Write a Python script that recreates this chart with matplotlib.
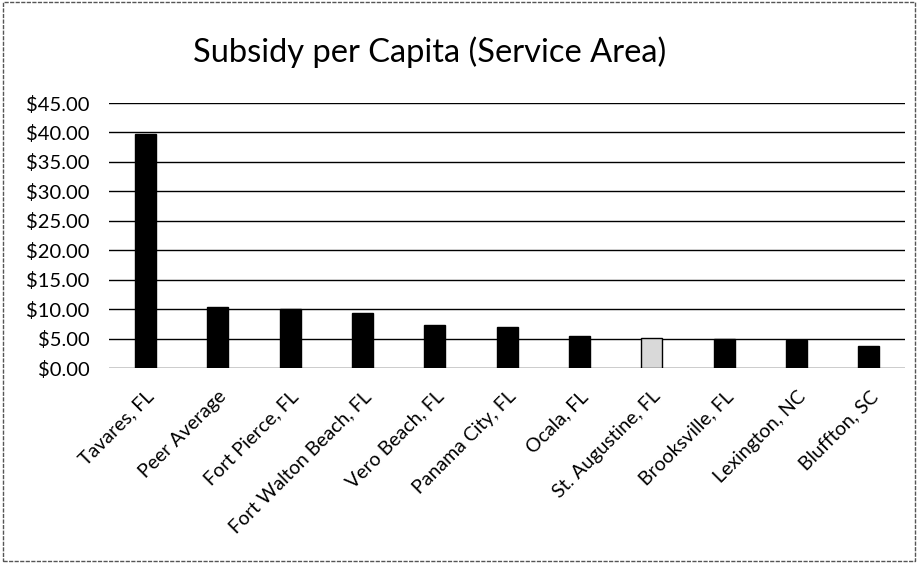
import matplotlib.pyplot as plt
from matplotlib.patches import Rectangle

cities = ['Tavares, FL', 'Peer Average', 'Fort Pierce, FL', 'Fort Walton Beach, FL',
          'Vero Beach, FL', 'Panama City, FL', 'Ocala, FL', 'St. Augustine, FL',
          'Brooksville, FL', 'Lexington, NC', 'Bluffton, SC']
subsidy = [39.8, 10.4, 10.0, 9.4, 7.3, 7.0, 5.5, 5.1, 5.0, 4.8, 3.7]
bar_colors = ['black'] * 11
bar_colors[7] = '#d9d9d9'
yticks = [0, 5, 10, 15, 20, 25, 30, 35, 40, 45]

plt.rcParams['font.family'] = ['Lato', 'DejaVu Sans']

fig = plt.figure(figsize=(9.18, 5.63), dpi=100)
ax = fig.add_axes([0.119, 0.346, 0.867, 0.471])

x = range(len(cities))
ax.bar(x, subsidy, width=0.29, color=bar_colors, edgecolor='black', linewidth=1, zorder=3)
ax.set_xlim(-0.5, len(cities) - 0.5)
ax.set_ylim(0, 45)
ax.set_yticks(yticks)
ax.set_yticklabels([f'${v:.2f}' for v in yticks], fontsize=14.5)
ax.yaxis.grid(True, color='black', linewidth=1, zorder=0)
ax.set_xticks(list(x))
ax.set_xticklabels(cities, rotation=45, ha='right', rotation_mode='anchor', fontsize=14)
ax.tick_params(length=0)
ax.tick_params(axis='y', pad=14)
ax.tick_params(axis='x', pad=14)
for s in ax.spines.values():
    s.set_visible(False)

fig.text(0.468, 0.908, 'Subsidy per Capita (Service Area)', ha='center', va='center', fontsize=23.5)

# outer frame
fig.patches.append(Rectangle((0.003, 0.003), 0.994, 0.994, transform=fig.transFigure,
                             fill=False, edgecolor='#555555', linewidth=1, linestyle=(0, (3, 1))))

plt.savefig('out.png', dpi=100)
